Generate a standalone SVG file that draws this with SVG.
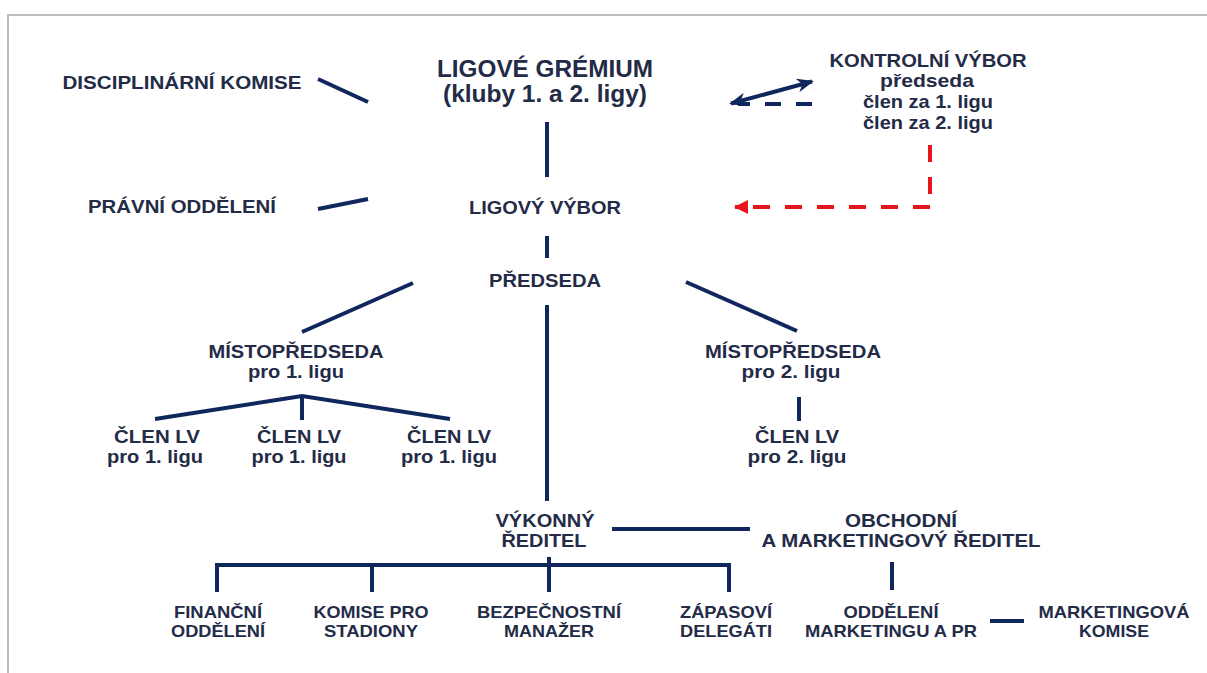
<svg xmlns="http://www.w3.org/2000/svg" width="1207" height="673" viewBox="0 0 1207 673">
<style>
text{font-family:"Liberation Sans",Arial,sans-serif;font-weight:bold;fill:#232b47;text-anchor:middle;font-size:19px}
.t{font-size:23px}
.s{font-size:17px}
.ln{stroke:#10275e;stroke-width:4;fill:none;stroke-linecap:butt}
.nd{stroke:#10275e;stroke-width:4;fill:none;stroke-dasharray:16 15}
.rd{stroke:#e8141c;stroke-width:4;fill:none;stroke-dasharray:17 15}
.frame{stroke:#bdbdbd;stroke-width:2;fill:none}
</style>
<defs>
<marker id="an" markerUnits="userSpaceOnUse" markerWidth="18" markerHeight="14" refX="15" refY="7" orient="auto-start-reverse"><path d="M0,0 L17,7 L0,14 L5,7 Z" fill="#10275e"/></marker>
<marker id="ar" markerUnits="userSpaceOnUse" markerWidth="16" markerHeight="14" refX="13" refY="7" orient="auto"><path d="M0,0 L14,7 L0,14 Z" fill="#e8141c"/></marker>
</defs>
<rect width="1207" height="673" fill="#ffffff"/>
<path class="frame" d="M1207,15 H8 V673"/>

<g id="connectors">
<line class="ln" x1="318" y1="79" x2="368" y2="102"/>
<line class="ln" x1="318" y1="209" x2="368" y2="199"/>
<line class="ln" x1="547" y1="122" x2="547" y2="177"/>
<line class="ln" x1="547" y1="236" x2="547" y2="258"/>
<line class="ln" x1="413" y1="283" x2="302" y2="332"/>
<line class="ln" x1="686" y1="282" x2="797" y2="331"/>
<line class="ln" x1="547" y1="305" x2="547" y2="501"/>
<polyline class="ln" points="155,419 302,396 450,419"/>
<line class="ln" x1="302" y1="396" x2="302" y2="420"/>
<line class="ln" x1="799" y1="397" x2="799" y2="421"/>
<line class="ln" x1="612" y1="529" x2="750" y2="529"/>
<path class="ln" d="M215,565 H729 V592 M217,565 V592 M372,565 V592"/>
<line class="ln" x1="549" y1="557" x2="549" y2="592"/>
<line class="ln" x1="892" y1="562" x2="892" y2="590"/>
<line class="ln" x1="990" y1="621" x2="1024" y2="621"/>
<path class="nd" d="M812,104 H738"/>
<line class="ln" x1="731" y1="103.5" x2="812" y2="81.5" marker-start="url(#an)" marker-end="url(#an)" stroke-width="3.5"/>
<path class="rd" d="M930,145 V207"/>
<path class="rd" d="M930,207 H735" marker-end="url(#ar)"/>
</g>

<g id="ligove-gremium">
<text class="t" x="545" y="77" textLength="216" lengthAdjust="spacingAndGlyphs">LIGOVÉ GRÉMIUM</text>
<text class="t" x="545" y="102" textLength="204" lengthAdjust="spacingAndGlyphs">(kluby 1. a 2. ligy)</text>
</g>
<g id="disciplinarni-komise">
<text x="182" y="89" textLength="239" lengthAdjust="spacingAndGlyphs">DISCIPLINÁRNÍ KOMISE</text>
</g>
<g id="pravni-oddeleni">
<text x="182" y="213" textLength="188" lengthAdjust="spacingAndGlyphs">PRÁVNÍ ODDĚLENÍ</text>
</g>
<g id="kontrolni-vybor">
<text x="928" y="67" textLength="197" lengthAdjust="spacingAndGlyphs">KONTROLNÍ VÝBOR</text>
<text x="927" y="87" textLength="94" lengthAdjust="spacingAndGlyphs">předseda</text>
<text x="928" y="108" textLength="130" lengthAdjust="spacingAndGlyphs">člen za 1. ligu</text>
<text x="928" y="129" textLength="130" lengthAdjust="spacingAndGlyphs">člen za 2. ligu</text>
</g>
<g id="ligovy-vybor">
<text x="545" y="214" textLength="152" lengthAdjust="spacingAndGlyphs">LIGOVÝ VÝBOR</text>
</g>
<g id="predseda">
<text x="545" y="287" textLength="112" lengthAdjust="spacingAndGlyphs">PŘEDSEDA</text>
</g>
<g id="mistopredseda-1">
<text x="296" y="358" textLength="175" lengthAdjust="spacingAndGlyphs">MÍSTOPŘEDSEDA</text>
<text x="296" y="378" textLength="96" lengthAdjust="spacingAndGlyphs">pro 1. ligu</text>
</g>
<g id="mistopredseda-2">
<text x="793" y="358" textLength="176" lengthAdjust="spacingAndGlyphs">MÍSTOPŘEDSEDA</text>
<text x="791" y="378" textLength="99" lengthAdjust="spacingAndGlyphs">pro 2. ligu</text>
</g>
<g id="clen-lv-1a">
<text x="157" y="443" textLength="86" lengthAdjust="spacingAndGlyphs">ČLEN LV</text>
<text x="155" y="463" textLength="96" lengthAdjust="spacingAndGlyphs">pro 1. ligu</text>
</g>
<g id="clen-lv-1b">
<text x="299" y="443" textLength="84" lengthAdjust="spacingAndGlyphs">ČLEN LV</text>
<text x="299" y="463" textLength="95" lengthAdjust="spacingAndGlyphs">pro 1. ligu</text>
</g>
<g id="clen-lv-1c">
<text x="449" y="443" textLength="84" lengthAdjust="spacingAndGlyphs">ČLEN LV</text>
<text x="449" y="463" textLength="96" lengthAdjust="spacingAndGlyphs">pro 1. ligu</text>
</g>
<g id="clen-lv-2">
<text x="797" y="443" textLength="84" lengthAdjust="spacingAndGlyphs">ČLEN LV</text>
<text x="797" y="463" textLength="99" lengthAdjust="spacingAndGlyphs">pro 2. ligu</text>
</g>
<g id="vykonny-reditel">
<text x="545" y="527" textLength="99" lengthAdjust="spacingAndGlyphs">VÝKONNÝ</text>
<text x="544" y="547" textLength="85" lengthAdjust="spacingAndGlyphs">ŘEDITEL</text>
</g>
<g id="obchodni-reditel">
<text x="901" y="527" textLength="112" lengthAdjust="spacingAndGlyphs">OBCHODNÍ</text>
<text x="901" y="547" textLength="279" lengthAdjust="spacingAndGlyphs">A MARKETINGOVÝ ŘEDITEL</text>
</g>
<g id="financni-oddeleni">
<text class="s" x="218" y="618" textLength="88" lengthAdjust="spacingAndGlyphs">FINANČNÍ</text>
<text class="s" x="218" y="637" textLength="94" lengthAdjust="spacingAndGlyphs">ODDĚLENÍ</text>
</g>
<g id="komise-pro-stadiony">
<text class="s" x="371" y="618" textLength="115" lengthAdjust="spacingAndGlyphs">KOMISE PRO</text>
<text class="s" x="371" y="637" textLength="94" lengthAdjust="spacingAndGlyphs">STADIONY</text>
</g>
<g id="bezpecnostni-manazer">
<text class="s" x="549" y="618" textLength="144" lengthAdjust="spacingAndGlyphs">BEZPEČNOSTNÍ</text>
<text class="s" x="549" y="637" textLength="90" lengthAdjust="spacingAndGlyphs">MANAŽER</text>
</g>
<g id="zapasovi-delegati">
<text class="s" x="726" y="618" textLength="92" lengthAdjust="spacingAndGlyphs">ZÁPASOVÍ</text>
<text class="s" x="726" y="637" textLength="92" lengthAdjust="spacingAndGlyphs">DELEGÁTI</text>
</g>
<g id="oddeleni-marketingu">
<text class="s" x="891" y="618" textLength="95" lengthAdjust="spacingAndGlyphs">ODDĚLENÍ</text>
<text class="s" x="891" y="637" textLength="172" lengthAdjust="spacingAndGlyphs">MARKETINGU A PR</text>
</g>
<g id="marketingova-komise">
<text class="s" x="1114" y="618" textLength="151" lengthAdjust="spacingAndGlyphs">MARKETINGOVÁ</text>
<text class="s" x="1114" y="637" textLength="70" lengthAdjust="spacingAndGlyphs">KOMISE</text>
</g>
</svg>
